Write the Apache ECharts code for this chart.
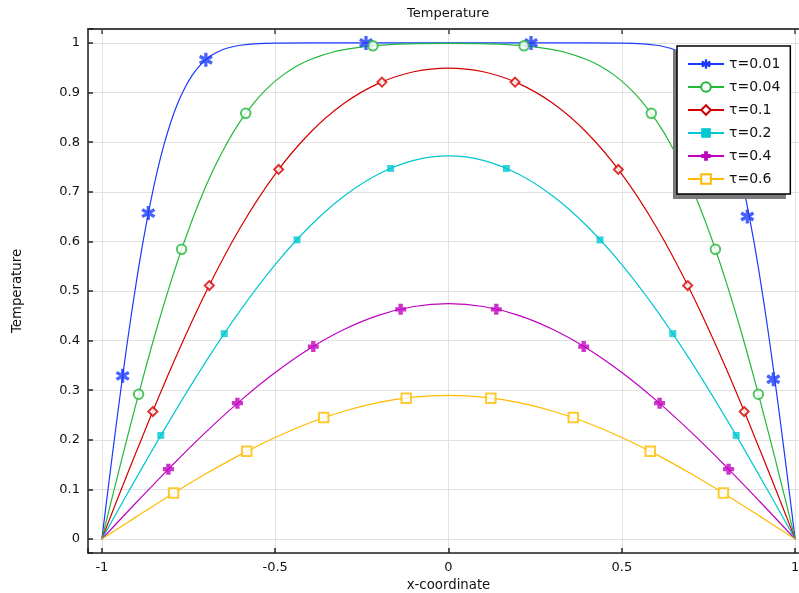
<!DOCTYPE html>
<html><head><meta charset="utf-8">
<script src="https://cdn.jsdelivr.net/npm/echarts@6/dist/echarts.min.js"></script>
<style>html,body{margin:0;padding:0;background:#fff;overflow:hidden}#c{width:799px;height:593px}</style>
</head><body><div id="c"></div>
<script>
const seriesNames = ['τ=0.01','τ=0.04','τ=0.1','τ=0.2','τ=0.4','τ=0.6'];
const xTicks = ['-1','-0.5','0','0.5','1'];
const yTicks = ['0','0.1','0.2','0.3','0.4','0.5','0.6','0.7','0.8','0.9','1'];

// curve samples
const xTau001 = [-1,-0.98,-0.96,-0.94,-0.92,-0.9,-0.88,-0.86,-0.84,-0.82,-0.8,-0.78,-0.76,-0.74,-0.72,-0.7,-0.68,-0.66,-0.64,-0.62,-0.6,-0.56,-0.5,-0.4,0,
  0.4,0.5,0.56,0.6,0.62,0.64,0.66,0.68,0.7,0.72,0.74,0.76,0.78,0.8,0.82,0.84,0.86,0.88,0.9,0.92,0.94,0.96,0.98,1];
const yTau001 = [0,0.1125,0.2227,0.3286,0.4284,0.5205,0.6039,0.6778,0.7421,0.7969,0.8427,0.8802,0.9103,0.9340,0.9523,0.9661,0.9764,0.9838,0.9891,0.9928,0.9953,0.9981,0.9996,1.0,1.0,
  1.0,0.9996,0.9981,0.9953,0.9928,0.9891,0.9838,0.9764,0.9661,0.9523,0.9340,0.9103,0.8802,0.8427,0.7969,0.7421,0.6778,0.6039,0.5205,0.4284,0.3286,0.2227,0.1125,0];
const xTau004 = [-1,-0.96,-0.92,-0.88,-0.84,-0.8,-0.76,-0.72,-0.68,-0.64,-0.6,-0.56,-0.52,-0.48,-0.44,-0.4,-0.32,-0.24,-0.16,-0.08,0,
  0.08,0.16,0.24,0.32,0.4,0.44,0.48,0.52,0.56,0.6,0.64,0.68,0.72,0.76,0.8,0.84,0.88,0.92,0.96,1];
const yTau004 = [0,0.1125,0.2227,0.3286,0.4284,0.5205,0.6039,0.6778,0.7421,0.7969,0.8427,0.8802,0.9103,0.9340,0.9523,0.9661,0.9838,0.9928,0.9970,0.9987,0.9992,
  0.9987,0.9970,0.9928,0.9838,0.9661,0.9523,0.9340,0.9103,0.8802,0.8427,0.7969,0.7421,0.6778,0.6039,0.5205,0.4284,0.3286,0.2227,0.1125,0];
const xCoarse = [-1,-0.9,-0.8,-0.7,-0.6,-0.5,-0.4,-0.3,-0.2,-0.1,0,0.1,0.2,0.3,0.4,0.5,0.6,0.7,0.8,0.9,1];
const yTau01 = [0,0.1769,0.3452,0.4975,0.6285,0.7356,0.8185,0.8788,0.9190,0.9419,0.9492,0.9419,0.9190,0.8788,0.8185,0.7356,0.6285,0.4975,0.3452,0.1769,0];
const yTau02 = [0,0.1239,0.2442,0.3578,0.4616,0.5532,0.6304,0.6918,0.7363,0.7633,0.7723,0.7633,0.7363,0.6918,0.6304,0.5532,0.4616,0.3578,0.2442,0.1239,0];
const yTau04 = [0,0.0743,0.1467,0.2155,0.2790,0.3356,0.3840,0.4228,0.4513,0.4687,0.4745,0.4687,0.4513,0.4228,0.3840,0.3356,0.2790,0.2155,0.1467,0.0743,0];
const yTau06 = [0,0.0453,0.0895,0.1315,0.1703,0.2049,0.2344,0.2581,0.2755,0.2861,0.2897,0.2861,0.2755,0.2581,0.2344,0.2049,0.1703,0.1315,0.0895,0.0453,0];

// marker positions
const mxTau001 = [-0.94,-0.866,-0.70,-0.238,0.238,0.70,0.862,0.937];
const myTau001 = [0.329,0.657,0.966,1.0,1.0,0.966,0.650,0.322];
const mxTau004 = [-0.894,-0.77,-0.585,-0.218,0.218,0.585,0.77,0.894];
const myTau004 = [0.292,0.584,0.858,0.994,0.994,0.858,0.584,0.292];
const mxTau01 = [-0.853,-0.69,-0.49,-0.192,0.192,0.49,0.69,0.853];
const myTau01 = [0.257,0.511,0.745,0.921,0.921,0.745,0.511,0.257];
const mxTau02 = [-0.83,-0.647,-0.437,-0.167,0.167,0.437,0.647,0.83];
const myTau02 = [0.209,0.414,0.603,0.747,0.747,0.603,0.414,0.209];
const mxTau04 = [-0.808,-0.609,-0.39,-0.138,0.138,0.39,0.609,0.808];
const myTau04 = [0.141,0.274,0.388,0.463,0.463,0.388,0.274,0.141];
const mxTau06 = [-0.793,-0.582,-0.36,-0.122,0.122,0.36,0.582,0.793];
const myTau06 = [0.093,0.177,0.245,0.284,0.284,0.245,0.177,0.093];

const colors = ['#1a3aff','#22b83a','#d40000','#00c8d0','#c000c0','#ffbb00'];
const STAR = 'path://M7.7 0L12.3 0L12.3 20L7.7 20ZM2.54 2.92L19.86 12.92L17.46 17.08L0.14 7.08ZM17.46 2.92L19.86 7.08L2.54 17.08L0.14 12.92Z';
const PLUS = 'path://M3 0L7 0L7 3L10 3L10 7L7 7L7 10L3 10L3 7L0 7L0 3L3 3Z';
const symbols = [STAR,'emptyCircle','emptyDiamond','rect',PLUS,'emptyRect'];
const symSizes = [14,9.5,9,7,11,9.5];

const curves = [[xTau001,yTau001],[xTau004,yTau004],[xCoarse,yTau01],[xCoarse,yTau02],[xCoarse,yTau04],[xCoarse,yTau06]];
const marks = [[mxTau001,myTau001],[mxTau004,myTau004],[mxTau01,myTau01],[mxTau02,myTau02],[mxTau04,myTau04],[mxTau06,myTau06]];
const zip = (a,b)=>a.map((v,i)=>[v,b[i]]);

const FONT = 'DejaVu Sans';
const series = [];
seriesNames.forEach((n,i)=>{
  series.push({name:n,type:'line',data:zip(curves[i][0],curves[i][1]),smooth:0.4,showSymbol:false,
    symbol:symbols[i],symbolSize:symSizes[i],color:colors[i],lineStyle:{width:1.2,color:colors[i]},
    itemStyle:{color:colors[i]},emphasis:{disabled:true},silent:true,animation:false,z:2});
});
seriesNames.forEach((n,i)=>{
  series.push({name:n,type:'scatter',data:zip(marks[i][0],marks[i][1]),symbol:symbols[i],symbolSize:symSizes[i],
    itemStyle:{color:colors[i],borderWidth:symbols[i].indexOf('empty')===0?1.4:0},emphasis:{disabled:true},silent:true,animation:false,z:3});
});

const isTenth = v => Math.abs(v*10-Math.round(v*10))<1e-6;
const chart = echarts.init(document.getElementById('c'),null,{renderer:'canvas'});
chart.setOption({
  animation:false,
  backgroundColor:'#fff',
  textStyle:{fontFamily:FONT},
  title:{text:'Temperature',left:402,top:2,textStyle:{fontFamily:FONT,fontSize:13,fontWeight:'normal',color:'#111'}},
  grid:{left:88,width:721,top:29,bottom:40,containLabel:false,outerBoundsMode:'none'},
  graphic:[{type:'rect',z:4,silent:true,shape:{x:673,y:50,width:113,height:149},style:{fill:'#7a7a7a'}}],
  legend:{data:seriesNames,orient:'vertical',left:677,top:46,padding:[11,10,8,10],itemWidth:36,itemHeight:12,itemGap:9,z:5,
    backgroundColor:'#fff',borderColor:'#000',borderWidth:1.5,
    textStyle:{fontFamily:FONT,fontSize:14,color:'#111'},selectedMode:false},
  xAxis:[{type:'value',min:-1.04,max:1.04,splitNumber:4,position:'bottom',
      name:'x-coordinate',nameLocation:'middle',nameGap:24,nameTextStyle:{fontFamily:FONT,fontSize:13.3,color:'#111'},
      axisLine:{show:true,onZero:false,lineStyle:{color:'#222',width:1.5}},
      axisTick:{show:true,inside:true,length:5,lineStyle:{color:'#222',width:1.5}},
      axisLabel:{margin:8,fontFamily:FONT,fontSize:13,color:'#111',showMinLabel:true,showMaxLabel:true,
        formatter:v=>{ if(Math.abs(v*2-Math.round(v*2))>1e-6) return ''; const s=Math.round(v*2)/2; const t=String(s); return xTicks.indexOf(t)>=0?t:''; }},
      splitLine:{show:true,lineStyle:{color:'#e2e2e2',width:1}}},
    {type:'value',min:-1.04,max:1.04,splitNumber:4,position:'top',
      axisLine:{show:true,onZero:false,lineStyle:{color:'#444',width:2}},
      axisTick:{show:true,inside:true,length:5,lineStyle:{color:'#444',width:1.5}},
      axisLabel:{show:false},splitLine:{show:false}}],
  yAxis:{type:'value',min:-0.028,max:1.028,splitNumber:10,
    name:'Temperature',nameLocation:'middle',nameGap:64,nameTextStyle:{fontFamily:FONT,fontSize:13.3,color:'#111'},
    axisLine:{show:true,onZero:false,lineStyle:{color:'#222',width:1.5}},
    axisTick:{show:true,inside:true,length:5,lineStyle:{color:'#222',width:1.5}},
    axisLabel:{margin:8,fontFamily:FONT,fontSize:13,color:'#111',
      formatter:v=>{ if(!isTenth(v)) return ''; const t=String(Math.round(v*10)/10); return yTicks.indexOf(t)>=0?t:''; }},
    splitLine:{show:true,lineStyle:{color:'#e2e2e2',width:1}}},
  series:series
});
</script></body></html>
